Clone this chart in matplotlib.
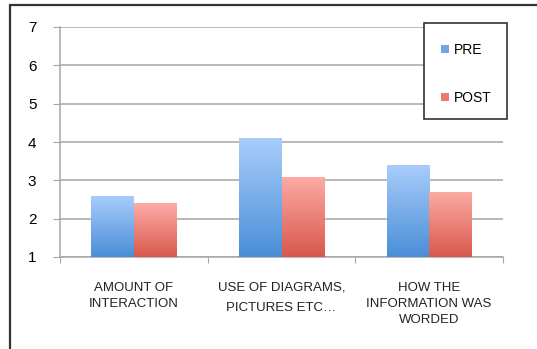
import numpy as np
import matplotlib
matplotlib.use("Agg")
import matplotlib.pyplot as plt
import matplotlib.transforms as mtransforms
from matplotlib.patches import Rectangle, Patch
from matplotlib.colors import LinearSegmentedColormap

categories = ["AMOUNT OF\nINTERACTION", "USE OF DIAGRAMS,\nPICTURES ETC\u2026", "HOW THE\nINFORMATION WAS\nWORDED"]
pre = [2.6, 4.1, 3.4]
post = [2.4, 3.1, 2.7]

W, H = 537, 349
fig = plt.figure(figsize=(W / 100, H / 100), dpi=100)
plt.rcParams['font.family'] = ['Liberation Sans', 'DejaVu Sans']

# outer frame (only left/top visible in the crop)
fig.patches.append(Rectangle((10 / W, -0.1), 1.2, 1 - 5 / H + 0.1, transform=fig.transFigure,
                             fill=False, edgecolor='#333333', lw=1.6, zorder=0))

ax = fig.add_axes([60 / W, 1 - 257 / H, 443 / W, 230 / H])
x = np.arange(len(categories))
w = 0.287

blue_cm = LinearSegmentedColormap.from_list("b", ["#4a8ed8", "#a9cdfb"])
red_cm = LinearSegmentedColormap.from_list("r", ["#d8584b", "#fcaca6"])

def grad_bars(xs, vals, cmap):
    bars = ax.bar(xs, np.array(vals) - 1, w, bottom=1, color='none', edgecolor='none', zorder=3)
    grad = np.linspace(0, 1, 256).reshape(-1, 1)
    for b in bars:
        x0, y0 = b.get_x(), b.get_y()
        im = ax.imshow(grad, cmap=cmap, origin='lower', aspect='auto',
                       extent=[x0, x0 + b.get_width(), y0, y0 + b.get_height()], zorder=3)
        im.set_clip_path(b)
    return bars

grad_bars(x - w / 2, pre, blue_cm)
grad_bars(x + w / 2, post, red_cm)

ax.set_xlim(-0.5, 2.5)
ax.set_ylim(1, 7)
ax.set_yticks(range(1, 8))
ax.yaxis.grid(True, color='#a6a6a6', lw=1.1)
ax.set_axisbelow(True)
for s in ['top', 'right']:
    ax.spines[s].set_visible(False)
for s in ['left', 'bottom']:
    ax.spines[s].set_color('#a6a6a6')
    ax.spines[s].set_linewidth(1.1)
ax.tick_params(axis='y', length=5, color='#a6a6a6', labelsize=11, pad=12)
ax.set_xticks([-0.5, 0.5, 1.5, 2.5])
ax.set_xticklabels([])
ax.tick_params(axis='x', length=4, color='#a6a6a6')

# category labels under the axis
trans = mtransforms.blended_transform_factory(ax.transData, fig.transFigure)
spacing = [1.45, 1.85, 1.45]
for xi, lab, ls in zip(x, categories, spacing):
    ax.text(xi, 1 - 282 / H, lab, transform=trans, ha='center', va='top',
            fontsize=9.5, linespacing=ls, color='#222222')

# legend box
fig.patches.append(Rectangle((424 / W, 1 - 119 / H), 83 / W, 96 / H, transform=fig.transFigure,
                             facecolor='white', edgecolor='#333333', lw=1.2, zorder=5))
handles = [Patch(facecolor='#6ea6e8', label='PRE'), Patch(facecolor='#ea7b72', label='POST')]
leg = fig.legend(handles=handles, loc='upper left', bbox_to_anchor=(434 / W, 1 - 36 / H),
                 frameon=False, fontsize=10, handlelength=0.6, handleheight=0.6,
                 handletextpad=0.35, labelspacing=2.45, borderpad=0)
leg.set_zorder(6)

fig.savefig("out.png", dpi=100)
